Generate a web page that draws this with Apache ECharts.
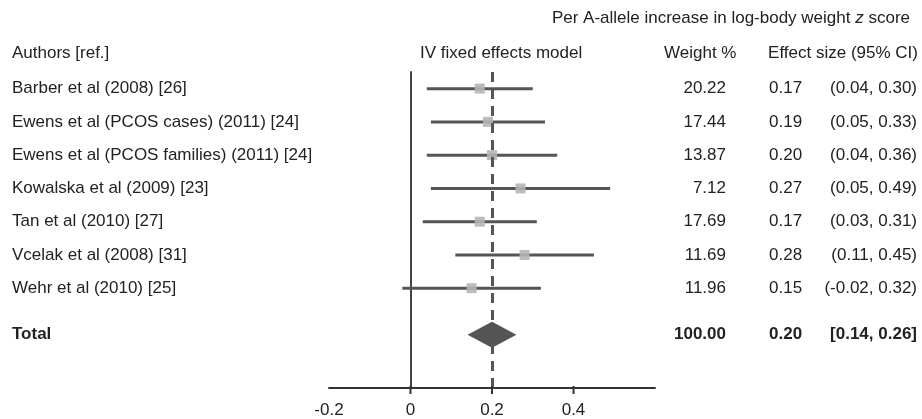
<!DOCTYPE html>
<html><head><meta charset="utf-8">
<script src="https://cdn.jsdelivr.net/npm/echarts@6/dist/echarts.min.js"></script>
<style>html,body{margin:0;padding:0;background:#fff}#c{width:922px;height:419px}</style>
</head><body><div id="c"></div>
<script>
const studies = [
  'Barber et al (2008) [26]',
  'Ewens et al (PCOS cases) (2011) [24]',
  'Ewens et al (PCOS families) (2011) [24]',
  'Kowalska et al (2009) [23]',
  'Tan et al (2010) [27]',
  'Vcelak et al (2008) [31]',
  'Wehr et al (2010) [25]'
];
const weights = ['20.22', '17.44', '13.87', '7.12', '17.69', '11.69', '11.96'];
const effects = [0.17, 0.19, 0.20, 0.27, 0.17, 0.28, 0.15];
const ciLow = [0.04, 0.05, 0.04, 0.05, 0.03, 0.11, -0.02];
const ciHigh = [0.30, 0.33, 0.36, 0.49, 0.31, 0.45, 0.32];
const totalLabel = 'Total';
const totalWeight = '100.00';
const totalEffect = 0.20;
const totalLow = 0.14;
const totalHigh = 0.26;
const tickValues = [0, 0.2, 0.4];
const xMin = -0.2, xMax = 0.6;

const FONT = "'Liberation Sans', Arial, Helvetica, sans-serif";
const FS = 17;
const TXT = '#222';
const rows = studies.map((s, i) => i + 1);
const totalRow = 8.4;
const f2 = v => v.toFixed(2);
const ciText = (lo, hi) => '(' + f2(lo) + ', ' + f2(hi) + ')';

const chart = echarts.init(document.getElementById('c'), null, {renderer: 'canvas'});

const tableData = studies.map((s, i) => [rows[i], s, weights[i], f2(effects[i]), ciText(ciLow[i], ciHigh[i]), 0]);
tableData.push([totalRow, totalLabel, totalWeight, f2(totalEffect), '[' + f2(totalLow) + ', ' + f2(totalHigh) + ']', 1]);

function txt(x, y, text, align, bold) {
  return {type: 'text', x: x, y: y, style: {text: text, fill: TXT, font: (bold ? 'bold ' : '') + FS + 'px ' + FONT, textAlign: align, textVerticalAlign: 'middle'}};
}

chart.setOption({
  animation: false,
  grid: {left: 329, right: 267, top: 72, bottom: 30},
  xAxis: {
    type: 'value', min: xMin, max: xMax, interval: 0.2,
    axisLine: {show: true, onZero: false, lineStyle: {color: '#333', width: 2}},
    axisTick: {show: false},
    splitLine: {show: false},
    axisLabel: {
      fontSize: FS, fontFamily: FONT, color: TXT, margin: 14,
      formatter: v => (v > 0.5 ? '' : (Math.abs(v) < 1e-9 ? '0' : v.toFixed(1)))
    }
  },
  yAxis: {
    type: 'value', min: 0.5, max: 10, inverse: true,
    axisLine: {show: true, onZero: true, lineStyle: {color: '#444', width: 2}},
    axisTick: {show: false}, axisLabel: {show: false}, splitLine: {show: false}
  },
  graphic: [
    {type: 'text', right: 12, top: 10, style: {
      rich: {a: {font: FS + 'px ' + FONT, fill: TXT}, i: {font: 'italic ' + FS + 'px ' + FONT, fill: TXT}},
      text: '{a|Per A-allele increase in log-body weight }{i|z}{a| score}'}},
    {type: 'text', left: 12, top: 45, style: {text: 'Authors [ref.]', font: FS + 'px ' + FONT, fill: TXT}},
    {type: 'text', left: 420, top: 45, style: {text: 'IV fixed effects model', font: FS + 'px ' + FONT, fill: TXT}},
    {type: 'text', left: 664, top: 45, style: {text: 'Weight %', font: FS + 'px ' + FONT, fill: TXT}},
    {type: 'text', right: 4, top: 45, style: {text: 'Effect size (95% CI)', font: FS + 'px ' + FONT, fill: TXT}}
  ],
  series: [
    {
      type: 'custom', name: 'ci', z: 2, clip: false,
      data: studies.map((s, i) => [ciLow[i], ciHigh[i], rows[i]]),
      renderItem: (params, api) => {
        const a = api.coord([api.value(0), api.value(2)]);
        const b = api.coord([api.value(1), api.value(2)]);
        return {type: 'line', shape: {x1: a[0], y1: a[1], x2: b[0], y2: b[1]}, style: {stroke: '#555', lineWidth: 3}};
      }
    },
    {
      type: 'scatter', name: 'effect', z: 3,
      data: effects.map((e, i) => [e, rows[i]]),
      symbol: 'rect', symbolSize: 10,
      itemStyle: {color: '#b5b5b5', opacity: 0.9},
      markLine: {
        silent: true, symbol: ['none', 'none'], label: {show: false},
        lineStyle: {color: '#555', width: 3, type: [10, 7]},
        data: [{xAxis: totalEffect}]
      }
    },
    {
      type: 'custom', name: 'diamond', z: 4, clip: false,
      data: [[totalLow, totalEffect, totalHigh, totalRow]],
      renderItem: (params, api) => {
        const l = api.coord([api.value(0), api.value(3)]);
        const c = api.coord([api.value(1), api.value(3)]);
        const r = api.coord([api.value(2), api.value(3)]);
        const h = 13;
        return {type: 'polygon', shape: {points: [[l[0], l[1]], [c[0], c[1] - h], [r[0], r[1]], [c[0], c[1] + h]]}, style: {fill: '#555'}};
      }
    },
    {
      type: 'custom', name: 'ticks', z: 5, clip: false,
      data: tickValues.map(v => [v]),
      renderItem: (params, api) => {
        const p = api.coord([api.value(0), 10]);
        return {type: 'line', shape: {x1: p[0], y1: p[1] - 2, x2: p[0], y2: p[1] + 6}, style: {stroke: '#333', lineWidth: 2}};
      }
    },
    {
      type: 'custom', name: 'table', z: 6, clip: false,
      data: tableData,
      renderItem: (params, api) => {
        const d = tableData[params.dataIndex];
        const y = api.coord([0, d[0]])[1];
        const bold = d[5] === 1;
        return {type: 'group', children: [
          txt(12, y, d[1], 'left', bold),
          txt(726, y, d[2], 'right', bold),
          txt(769, y, d[3], 'left', bold),
          txt(917, y, d[4], 'right', bold)
        ]};
      }
    }
  ]
});
</script></body></html>
